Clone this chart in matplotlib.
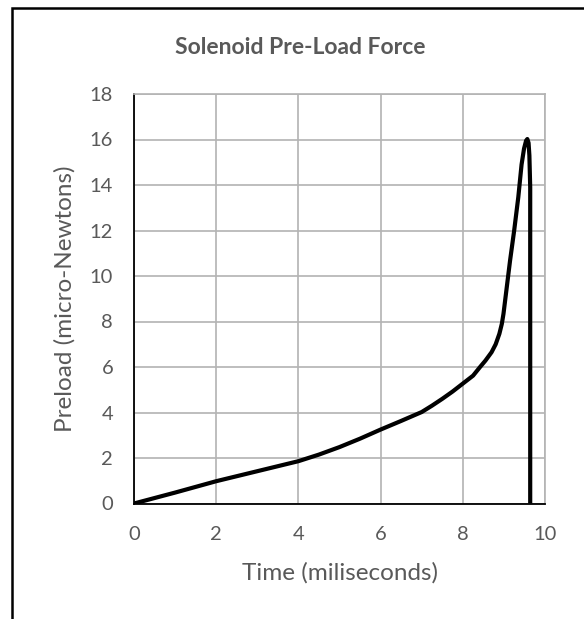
import numpy as np
import matplotlib.pyplot as plt
from matplotlib.patches import Rectangle

# solenoid preload trace (time in ms, preload in micro-N)
time_ms = [0, 1, 2, 3, 4, 4.5, 5, 5.5, 6, 6.5, 7, 7.25, 7.5, 7.75, 8.0,
           8.25, 8.42, 8.55, 8.7, 8.8, 8.89, 8.95, 8.99, 9.07, 9.15, 9.25,
           9.35, 9.43, 9.49, 9.54, 9.57, 9.6, 9.62, 9.64, 9.64, 9.64]
preload = [0, 0.48, 0.98, 1.42, 1.86, 2.15, 2.48, 2.85, 3.25, 3.63, 4.02,
           4.3, 4.6, 4.92, 5.27, 5.62, 6.0, 6.28, 6.65, 7.0, 7.46, 7.9, 8.34,
           9.51, 10.68, 12.0, 13.46, 14.9, 15.6, 15.95, 16.02, 15.85, 15.3,
           13.9, 8, 0]

xticks = [0, 2, 4, 6, 8, 10]
yticks = [0, 2, 4, 6, 8, 10, 12, 14, 16, 18]

plt.rcParams['font.family'] = ['Lato', 'DejaVu Sans']
TXT = '#595959'

W, H = 584, 619
fig = plt.figure(figsize=(W / 100, H / 100), dpi=100)
fig.patch.set_facecolor('white')

# chart frame (only top/left edges fall inside the image)
fig.patches.append(Rectangle((12 / W, -0.5), 2.0, 1 - 8 / H + 0.5,
                             transform=fig.transFigure, fill=False,
                             edgecolor='black', lw=1.8))

ax = fig.add_axes([134 / W, 1 - 503.5 / H, 411 / W, 409.5 / H])
ax.plot(time_ms, preload, color='black', lw=3.0,
        solid_joinstyle='round', solid_capstyle='butt', zorder=3)

ax.set_xlim(0, 10)
ax.set_ylim(0, 18)
ax.set_xticks(xticks)
ax.set_yticks(yticks)
ax.grid(True, color='#b3b3b3', lw=1.2)
ax.set_axisbelow(True)
ax.tick_params(length=0, labelsize=14.5, colors=TXT)
ax.tick_params(axis='x', pad=16)
ax.tick_params(axis='y', pad=15)
for s in ['top', 'right']:
    ax.spines[s].set_color('#b3b3b3')
    ax.spines[s].set_linewidth(1.2)
for s in ['left', 'bottom']:
    ax.spines[s].set_color('black')
    ax.spines[s].set_linewidth(1.3)

ax.set_xlabel('Time (miliseconds)', fontsize=17.5, color=TXT, va='center')
ax.set_ylabel('Preload (micro-Newtons)', fontsize=17.5, color=TXT, va='center')
ax.xaxis.set_label_coords(0.5, (503.5 - 573) / 409.5)
ax.yaxis.set_label_coords((65 - 134) / 411, 0.5)

fig.text(300 / W, 1 - 47 / H, 'Solenoid Pre-Load Force', ha='center',
         va='center', fontsize=16.5, fontweight='bold', color=TXT)

fig.savefig('out.png', dpi=100)
